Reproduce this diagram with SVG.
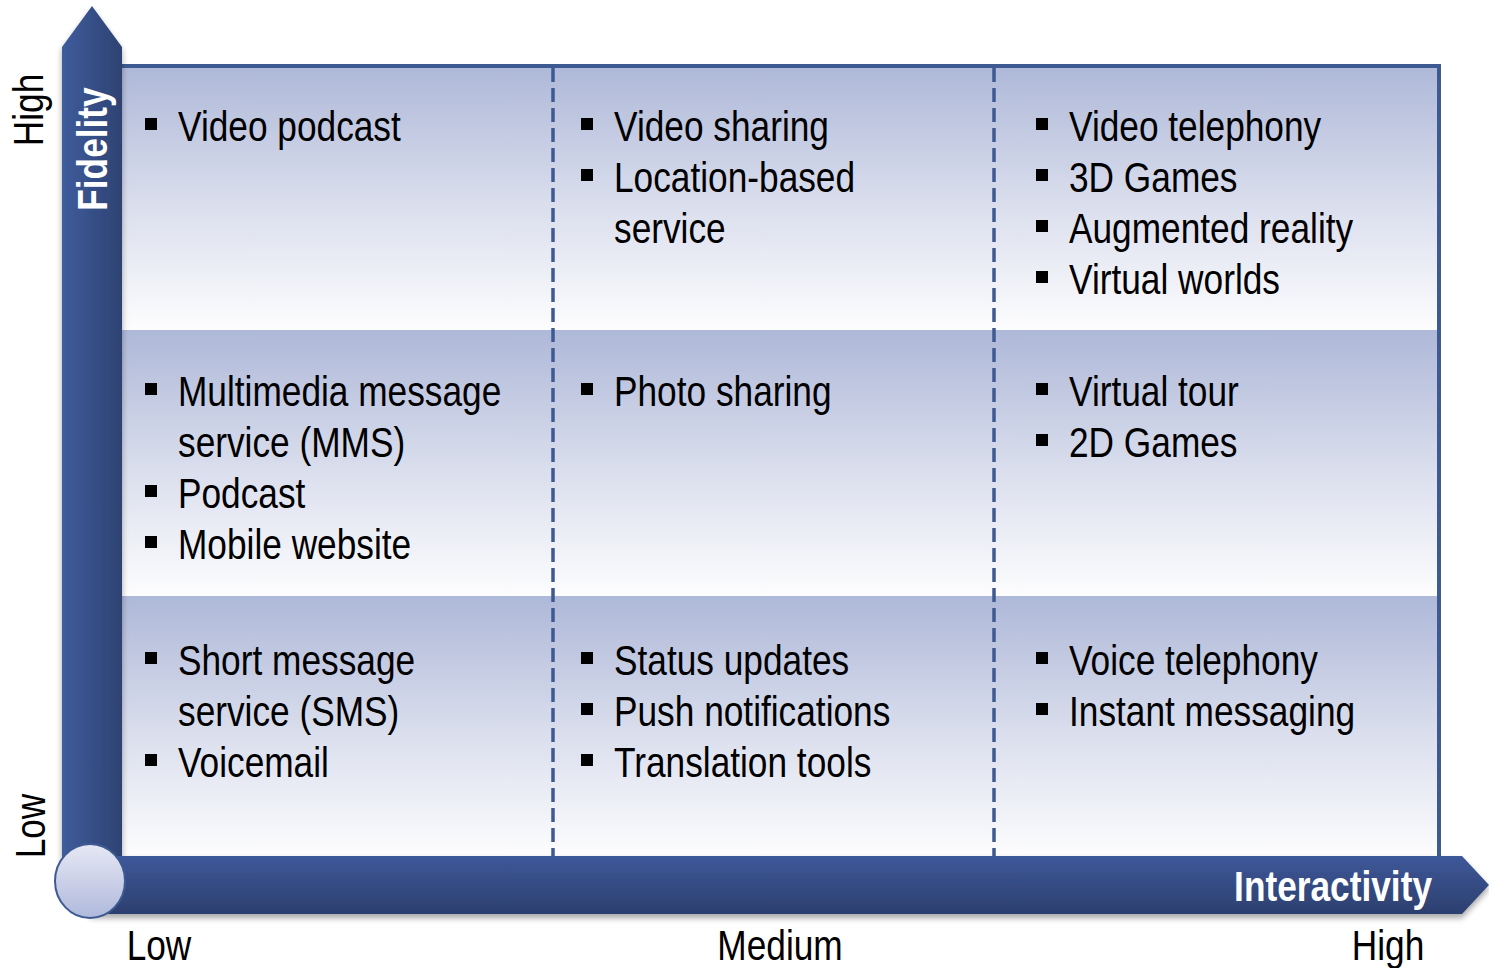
<svg xmlns="http://www.w3.org/2000/svg" width="1489" height="968" viewBox="0 0 1489 968">
<defs>
<linearGradient id="rowg" x1="0" y1="0" x2="0" y2="1">
<stop offset="0" stop-color="#AEB8D8"/>
<stop offset="0.55" stop-color="#DCE0EE"/>
<stop offset="1" stop-color="#FDFDFE"/>
</linearGradient>
<linearGradient id="vbar" x1="0" y1="0" x2="1" y2="0">
<stop offset="0" stop-color="#3F5C9C"/>
<stop offset="1" stop-color="#2D4272"/>
</linearGradient>
<linearGradient id="hbar" x1="0" y1="0" x2="0" y2="1">
<stop offset="0" stop-color="#3E5899"/>
<stop offset="1" stop-color="#2C3F6E"/>
</linearGradient>
<linearGradient id="circ" x1="0" y1="0" x2="0" y2="1">
<stop offset="0" stop-color="#E6E8F4"/>
<stop offset="1" stop-color="#B0B9DC"/>
</linearGradient>
<filter id="sh" x="-10%" y="-10%" width="130%" height="140%">
<feGaussianBlur in="SourceAlpha" stdDeviation="3"/>
<feOffset dx="0" dy="4"/>
<feComponentTransfer><feFuncA type="linear" slope="0.35"/></feComponentTransfer>
<feMerge><feMergeNode/><feMergeNode in="SourceGraphic"/></feMerge>
</filter>
</defs>
<style>
.t{font-family:"Liberation Sans",Arial,sans-serif;font-size:43px;fill:#000}
.ax{font-family:"Liberation Sans",Arial,sans-serif;font-size:43px;font-weight:bold;fill:#fff}
.b{fill:#000}
.dash{stroke:#3F5A93;stroke-width:3.5;stroke-dasharray:14 6;fill:none}
</style>
<g id="grid">
<rect x="122" y="66" width="1317" height="264" fill="url(#rowg)"/>
<rect x="122" y="330" width="1317" height="266" fill="url(#rowg)"/>
<rect x="122" y="596" width="1317" height="261" fill="url(#rowg)"/>
<path d="M122 66 H1439 V857" fill="none" stroke="#3E5A92" stroke-width="4"/>
</g>
<g id="connectors">
<line class="dash" x1="553" y1="68" x2="553" y2="857"/>
<line class="dash" x1="994" y1="68" x2="994" y2="857"/>
</g>
<g id="axes">
<path id="y-axis" d="M62 47 L92 6 L122 47 V880 H62 Z" fill="url(#vbar)" filter="url(#sh)"/>
<path id="x-axis" d="M90 856 H1462 L1489 885 L1462 914 H90 Z" fill="url(#hbar)" filter="url(#sh)"/>
<ellipse id="origin" cx="90" cy="881" rx="35" ry="37" fill="url(#circ)" stroke="#3E5A92" stroke-width="2"/>
<text class="ax" transform="translate(107 149) rotate(-90) scale(0.82 1)" text-anchor="middle">Fidelity</text>
<text class="ax" transform="translate(1432 901) scale(0.82 1)" text-anchor="end">Interactivity</text>
</g>
<g id="axis-labels">
<text class="t" transform="translate(43 110) rotate(-90) scale(0.82 1)" text-anchor="middle">High</text>
<text class="t" transform="translate(45 826) rotate(-90) scale(0.82 1)" text-anchor="middle">Low</text>
<text class="t" transform="translate(159 960) scale(0.82 1)" text-anchor="middle">Low</text>
<text class="t" transform="translate(780 960) scale(0.82 1)" text-anchor="middle">Medium</text>
<text class="t" transform="translate(1388 960) scale(0.82 1)" text-anchor="middle">High</text>
</g>
<g id="cell-r1c1">
<rect class="b" x="145" y="118" width="12" height="12"/>
<text class="t" transform="translate(178 141) scale(0.82 1)">Video podcast</text>
</g>
<g id="cell-r1c2">
<rect class="b" x="581" y="118" width="12" height="12"/>
<text class="t" transform="translate(614 141) scale(0.82 1)">Video sharing</text>
<rect class="b" x="581" y="169" width="12" height="12"/>
<text class="t" transform="translate(614 192) scale(0.82 1)">Location-based</text>
<text class="t" transform="translate(614 243) scale(0.82 1)">service</text>
</g>
<g id="cell-r1c3">
<rect class="b" x="1036" y="118" width="12" height="12"/>
<text class="t" transform="translate(1069 141) scale(0.82 1)">Video telephony</text>
<rect class="b" x="1036" y="169" width="12" height="12"/>
<text class="t" transform="translate(1069 192) scale(0.82 1)">3D Games</text>
<rect class="b" x="1036" y="220" width="12" height="12"/>
<text class="t" transform="translate(1069 243) scale(0.82 1)">Augmented reality</text>
<rect class="b" x="1036" y="271" width="12" height="12"/>
<text class="t" transform="translate(1069 294) scale(0.82 1)">Virtual worlds</text>
</g>
<g id="cell-r2c1">
<rect class="b" x="145" y="383" width="12" height="12"/>
<text class="t" transform="translate(178 406) scale(0.82 1)">Multimedia message</text>
<text class="t" transform="translate(178 457) scale(0.82 1)">service (MMS)</text>
<rect class="b" x="145" y="485" width="12" height="12"/>
<text class="t" transform="translate(178 508) scale(0.82 1)">Podcast</text>
<rect class="b" x="145" y="536" width="12" height="12"/>
<text class="t" transform="translate(178 559) scale(0.82 1)">Mobile website</text>
</g>
<g id="cell-r2c2">
<rect class="b" x="581" y="383" width="12" height="12"/>
<text class="t" transform="translate(614 406) scale(0.82 1)">Photo sharing</text>
</g>
<g id="cell-r2c3">
<rect class="b" x="1036" y="383" width="12" height="12"/>
<text class="t" transform="translate(1069 406) scale(0.82 1)">Virtual tour</text>
<rect class="b" x="1036" y="434" width="12" height="12"/>
<text class="t" transform="translate(1069 457) scale(0.82 1)">2D Games</text>
</g>
<g id="cell-r3c1">
<rect class="b" x="145" y="652" width="12" height="12"/>
<text class="t" transform="translate(178 675) scale(0.82 1)">Short message</text>
<text class="t" transform="translate(178 726) scale(0.82 1)">service (SMS)</text>
<rect class="b" x="145" y="754" width="12" height="12"/>
<text class="t" transform="translate(178 777) scale(0.82 1)">Voicemail</text>
</g>
<g id="cell-r3c2">
<rect class="b" x="581" y="652" width="12" height="12"/>
<text class="t" transform="translate(614 675) scale(0.82 1)">Status updates</text>
<rect class="b" x="581" y="703" width="12" height="12"/>
<text class="t" transform="translate(614 726) scale(0.82 1)">Push notifications</text>
<rect class="b" x="581" y="754" width="12" height="12"/>
<text class="t" transform="translate(614 777) scale(0.82 1)">Translation tools</text>
</g>
<g id="cell-r3c3">
<rect class="b" x="1036" y="652" width="12" height="12"/>
<text class="t" transform="translate(1069 675) scale(0.82 1)">Voice telephony</text>
<rect class="b" x="1036" y="703" width="12" height="12"/>
<text class="t" transform="translate(1069 726) scale(0.82 1)">Instant messaging</text>
</g>
</svg>
